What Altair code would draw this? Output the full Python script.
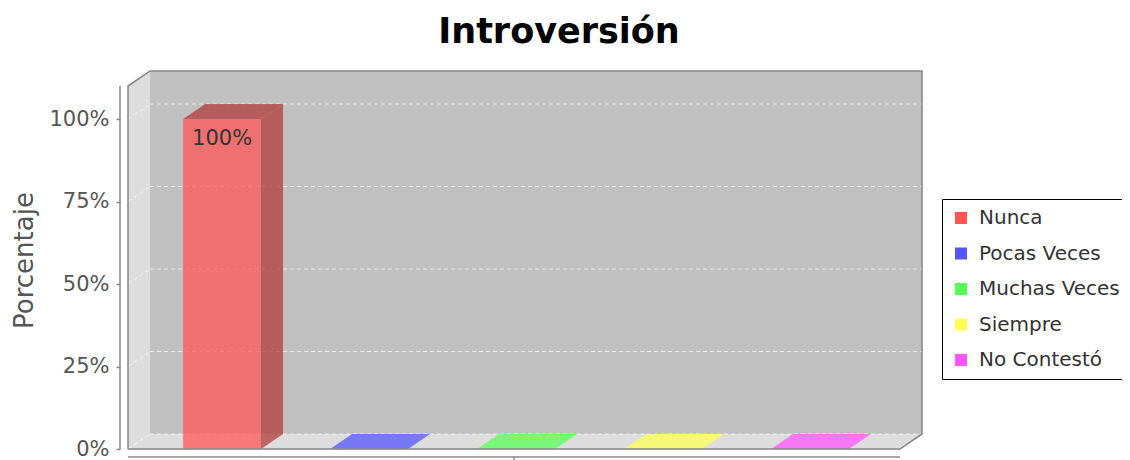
import altair as alt
import pandas as pd

# ---- data ----
categories = ["Nunca", "Pocas Veces", "Muchas Veces", "Siempre", "No Contestó"]
values = [100, 0, 0, 0, 0]
colors = ["#FF5555", "#5555FF", "#55FF55", "#FFFF55", "#FF55FF"]
dark_colors = ["#B23B3B", "#3B3BB2", "#3BB23B", "#B2B23B", "#B23BB2"]
y_ticks = [0, 25, 50, 75, 100]
title_text = "Introversión"
y_title = "Porcentaje"

# ---- 3D geometry in data units ----
X0, X1 = -0.64, 4.762     # category-index extent of the plot box
DX = 0.15                  # depth offset (category units)
DY = 4.55                  # depth offset (percent units)
YMAX = 114.55
HW = 0.265                 # half bar width
W, H = 794, 378

xs = alt.Scale(domain=[X0, X1], nice=False, zero=False)
ys = alt.Scale(domain=[0, YMAX], nice=False, zero=False)

one = pd.DataFrame({"a": [0]})

# back wall
back_df = pd.DataFrame({"x": [X0 + DX], "x2": [X1], "y": [DY], "y2": [YMAX]})
back = alt.Chart(back_df).mark_rect(color="#C0C0C0").encode(
    x=alt.X("x:Q", scale=xs, axis=None),
    x2="x2:Q",
    y=alt.Y("y:Q", scale=ys,
            axis=alt.Axis(values=y_ticks, labelExpr="datum.value + '%'", offset=8,
                          domain=False, grid=False, tickSize=4, tickColor="#888888",
                          tickWidth=1.5, labelFontSize=21, labelColor="#555555",
                          labelFont="DejaVu Sans", labelPadding=7, title=y_title,
                          titleFont="DejaVu Sans", titleFontSize=26,
                          titleFontWeight="normal", titleColor="#555555",
                          titlePadding=11)),
    y2="y2:Q",
)

# left wall and floor (areas)
walls = []
walls += [("wall", X0, 0, YMAX - DY), ("wall", X0 + DX, DY, YMAX)]
walls += [("floor", X0, 0, 0), ("floor", X0 + DX, 0, DY),
          ("floor", X1 - DX, 0, DY), ("floor", X1, DY, DY)]
walls_df = pd.DataFrame(walls, columns=["shape", "x", "y", "y2"])
wall_layer = alt.Chart(walls_df).mark_area(color="#DDDDDD", opacity=1).encode(
    x=alt.X("x:Q", scale=xs), y=alt.Y("y:Q", scale=ys, stack=None), y2="y2:Q",
    detail="shape:N",
)

# gridlines
grid_rows = []
for v in y_ticks:
    grid_rows += [(f"b{v}", X0 + DX, v + DY), (f"b{v}", X1, v + DY)]
    grid_rows += [(f"l{v}", X0, v), (f"l{v}", X0 + DX, v + DY)]
grid_df = pd.DataFrame(grid_rows, columns=["seg", "x", "y"])
grid = alt.Chart(grid_df).mark_line(color="#F2F2F2", strokeWidth=1.2,
                                    strokeDash=[4, 3], opacity=0.9).encode(
    x=alt.X("x:Q", scale=xs), y=alt.Y("y:Q", scale=ys), detail="seg:N",
)

# bar fronts
front_df = pd.DataFrame({
    "x": [i - HW for i in range(len(values))],
    "x2": [i + HW for i in range(len(values))],
    "y": [0] * len(values), "y2": values, "fill": colors,
})
fronts = alt.Chart(front_df).mark_rect(opacity=0.75).encode(
    x=alt.X("x:Q", scale=xs), x2="x2:Q",
    y=alt.Y("y:Q", scale=ys), y2="y2:Q",
    color=alt.Color("fill:N", scale=None),
)

# bar sides and tops
faces = []
for i, v in enumerate(values):
    top_fill = dark_colors[i] if v > 0 else colors[i]
    sid = f"t{i}"
    faces += [(sid, i - HW, v, v, top_fill), (sid, i - HW + DX, v, v + DY, top_fill),
              (sid, i + HW, v, v + DY, top_fill), (sid, i + HW + DX, v + DY, v + DY, top_fill)]
    if v > 0:
        sid = f"s{i}"
        faces += [(sid, i + HW, 0, v, dark_colors[i]),
                  (sid, i + HW + DX, DY, v + DY, dark_colors[i])]
faces_df = pd.DataFrame(faces, columns=["shape", "x", "y", "y2", "fill"])
face_layer = alt.Chart(faces_df).mark_area(opacity=0.75).encode(
    x=alt.X("x:Q", scale=xs), y=alt.Y("y:Q", scale=ys, stack=None), y2="y2:Q",
    color=alt.Color("fill:N", scale=None), detail="shape:N",
)

# outline of the 3D box
out_pts = [(X0, 0), (X0, YMAX - DY), (X0 + DX, YMAX), (X1, YMAX), (X1, DY), (X1 - DX, 0), (X0, 0)]
out_df = pd.DataFrame([(k, x, y) for k, (x, y) in enumerate(out_pts)], columns=["o", "x", "y"])
outline = alt.Chart(out_df).mark_line(color="#858585", strokeWidth=1.5).encode(
    x=alt.X("x:Q", scale=xs), y=alt.Y("y:Q", scale=ys), order="o:Q",
)

# value labels
lab_df = pd.DataFrame({"x": list(range(len(values))), "v": values,
                       "t": [f"{v}%" for v in values]})
labels = alt.Chart(lab_df).transform_filter("datum.v > 0").mark_text(
    font="DejaVu Sans", fontSize=21, color="#333333", baseline="alphabetic", dy=26
).encode(x=alt.X("x:Q", scale=xs), y=alt.Y("v:Q", scale=ys), text="t:N")

# axis lines
y_line = alt.Chart(one).mark_rule(color="#888888", strokeWidth=1.5).encode(
    x=alt.value(-8), y=alt.datum(0), y2=alt.datum(YMAX - DY))
x_line = alt.Chart(one).mark_rule(color="#888888", strokeWidth=1.5).encode(
    x=alt.datum(X0), x2=alt.datum(X1 - DX), y=alt.value(H + 8))
x_tick = alt.Chart(one).mark_rule(color="#888888", strokeWidth=1.5).encode(
    x=alt.datum((X0 + X1 - DX) / 2), y=alt.value(H + 8), y2=alt.value(H + 12))

# legend layer
leg_df = pd.DataFrame({"cat": categories})
legend_layer = alt.Chart(leg_df).mark_square(opacity=0, size=10).encode(
    x=alt.value(0), y=alt.value(0),
    color=alt.Color("cat:N", scale=alt.Scale(domain=categories, range=colors),
                    legend=alt.Legend(title=None, orient="none", legendX=814, legendY=128,
                                      symbolType="square", symbolSize=144,
                                      symbolOpacity=1, symbolStrokeWidth=0,
                                      labelFont="DejaVu Sans", labelFontSize=20,
                                      labelColor="#333333", rowPadding=15.5,
                                      labelOffset=8, padding=9,
                                      strokeColor="black", fillColor="white",
                                      labelLimit=300)),
)

chart = alt.layer(
    back, wall_layer, grid, fronts, face_layer, outline, labels,
    y_line, x_line, x_tick, legend_layer
).resolve_scale(color="independent").properties(
    width=W, height=H,
    title=alt.TitleParams(title_text, font="DejaVu Sans", fontSize=35, fontWeight="bold",
                          color="black", anchor="middle", dx=34, dy=36, offset=26,
                          baseline="alphabetic"),
    autosize=alt.AutoSizeParams(type="none"),
    padding={"left": 120, "top": 63, "right": 200, "bottom": 11},
).configure_view(stroke=None)

chart.save("out.html", embed_options={"renderer": "svg", "actions": False})
